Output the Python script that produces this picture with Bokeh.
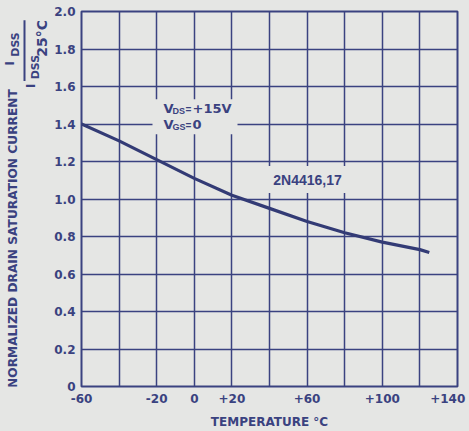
import math
from bokeh.plotting import figure
from bokeh.layouts import row
from bokeh.models import FixedTicker, Label, BoxAnnotation, Range1d
from bokeh.embed import file_html
from bokeh.resources import INLINE

# ---- data ----
temperature = [-60, -40, -20, 0, 20, 40, 60, 80, 100, 120, 125]
idss_ratio = [1.40, 1.31, 1.21, 1.11, 1.02, 0.95, 0.88, 0.82, 0.77, 0.73, 0.715]

x_ticks = [-60, -20, 0, 20, 60, 100, 140]
x_tick_labels = ["-60", "-20", "0", "+20", "+60", "+100", "+140"]
y_ticks = [0, 0.2, 0.4, 0.6, 0.8, 1.0, 1.2, 1.4, 1.6, 1.8, 2.0]
y_tick_labels = ["0", "0.2", "0.4", "0.6", "0.8", "1.0", "1.2", "1.4", "1.6", "1.8", "2.0"]
x_grid = [-60, -40, -20, 0, 20, 40, 60, 80, 100, 120, 140]

x_title = "TEMPERATURE °C"
y_title = "NORMALIZED DRAIN SATURATION CURRENT"
bias_text = ["+15V", "0"]
device_text = "2N4416,17"

PAPER = "#e5e6e4"
INK = "#3a4280"
CURVE = "#333b75"
BOLD_FONT = "DejaVu Sans"
NARROW_FONT = "Liberation Sans"

W, H = 469, 431
STRIP = 50                      # left strip holding the vertical title
X0, X1, Y0, Y1 = -60, 140, 0, 2.0
FL, FR, FT, FB = 81, 457, 11, 387   # frame edges in page pixels


def px(x):
    return X0 + (x - FL) * (X1 - X0) / (FR - FL)


def py(y):
    return Y0 + (FB - y) * (Y1 - Y0) / (FB - FT)


# ---------------- left strip: vertical axis title ----------------
s = figure(width=STRIP, height=H, output_backend="svg", toolbar_location=None,
           x_range=Range1d(0, STRIP), y_range=Range1d(0, H),
           x_axis_type=None, y_axis_type=None,
           min_border_left=0, min_border_right=0, min_border_top=0, min_border_bottom=0)
s.background_fill_color = PAPER
s.border_fill_color = PAPER
s.outline_line_color = None
s.xgrid.visible = False
s.ygrid.visible = False

R = math.pi / 2


def slab(x, y, text, size, font=BOLD_FONT, align="left"):
    # x, y given in page pixels from the top-left corner
    s.add_layout(Label(x=x, y=H - y, text=text, text_font=font, text_font_style="bold",
                       text_font_size=f"{size}px", text_color=INK, text_align=align,
                       text_baseline="middle", angle=R))


slab(12, 261, y_title, 12.2, align="center")
slab(9, 62, "I", 12)
slab(15, 52, "DSS", 11)
s.add_layout(BoxAnnotation(left=23, right=25, top=H - 10, bottom=H - 80,
                           fill_color=INK, fill_alpha=1, line_color=None))
slab(30, 88, "I", 12)
slab(35, 78, "DSS", 11)
slab(41, 52, "25°C", 14)

# ---------------- main chart ----------------
p = figure(width=W - STRIP, height=H, output_backend="svg", toolbar_location=None,
           x_range=Range1d(X0, X1), y_range=Range1d(Y0, Y1),
           min_border_left=FL - STRIP, min_border_right=W - FR,
           min_border_top=FT, min_border_bottom=H - FB)

p.background_fill_color = PAPER
p.border_fill_color = PAPER
p.outline_line_color = INK
p.outline_line_width = 2

for ax in (p.xaxis, p.yaxis):
    ax.axis_line_color = None
    ax.major_tick_line_color = None
    ax.minor_tick_line_color = None
    ax.major_tick_out = 0
    ax.major_tick_in = 0
    ax.major_label_text_font = BOLD_FONT
    ax.major_label_text_font_style = "bold"
    ax.major_label_text_font_size = "12px"
    ax.major_label_text_color = INK

p.xaxis.ticker = FixedTicker(ticks=x_ticks)
x_over = {t: l for t, l in zip(x_ticks, x_tick_labels)}
x_over[x_ticks[-1]] = x_tick_labels[-1] + "\u00a0"   # keep the last label inside the page
p.xaxis.major_label_overrides = x_over
p.xaxis.major_label_standoff = 5
p.xaxis.axis_label = x_title
p.xaxis.axis_label_text_font = BOLD_FONT
p.xaxis.axis_label_text_font_style = "bold"
p.xaxis.axis_label_text_font_size = "12px"
p.xaxis.axis_label_text_color = INK
p.xaxis.axis_label_standoff = 6

p.yaxis.ticker = FixedTicker(ticks=y_ticks)
p.yaxis.major_label_overrides = {t: l for t, l in zip(y_ticks, y_tick_labels)}
p.yaxis.major_label_standoff = 6

p.xgrid.ticker = FixedTicker(ticks=x_grid)
p.ygrid.ticker = FixedTicker(ticks=y_ticks)
for g in (p.xgrid, p.ygrid):
    g.grid_line_color = INK
    g.grid_line_width = 1.5
    g.grid_line_alpha = 1

# breaks in the grid behind the annotations
p.add_layout(BoxAnnotation(left=px(152), right=px(237), top=py(99), bottom=py(134),
                           fill_color=PAPER, fill_alpha=1, line_color=None))
p.add_layout(BoxAnnotation(left=px(263), right=px(350), top=py(166), bottom=py(193),
                           fill_color=PAPER, fill_alpha=1, line_color=None))

p.line(temperature, idss_ratio, line_color=CURVE, line_width=3.2)


def lab(x, y, text, size, font=BOLD_FONT, align="left"):
    p.add_layout(Label(x=px(x), y=py(y), text=text, text_font=font,
                       text_font_style="bold", text_font_size=f"{size}px",
                       text_color=INK, text_align=align, text_baseline="middle"))


lab(163, 108, "V", 13)
lab(172, 111, "DS", 9, font=NARROW_FONT)
lab(185, 109, "=", 10, font=NARROW_FONT)
lab(192, 108, bias_text[0], 13)
lab(163, 124, "V", 13)
lab(172, 127, "GS", 9, font=NARROW_FONT)
lab(185, 125, "=", 10, font=NARROW_FONT)
lab(192, 124, bias_text[1], 13)

lab(307, 180, device_text, 14, font=NARROW_FONT, align="center")

layout = row(s, p)
html = file_html(layout, INLINE)
html = html.replace("</head>",
                    f"<style>html, body {{ background: {PAPER} !important; }}</style></head>", 1)
open("out.html", "w").write(html)
